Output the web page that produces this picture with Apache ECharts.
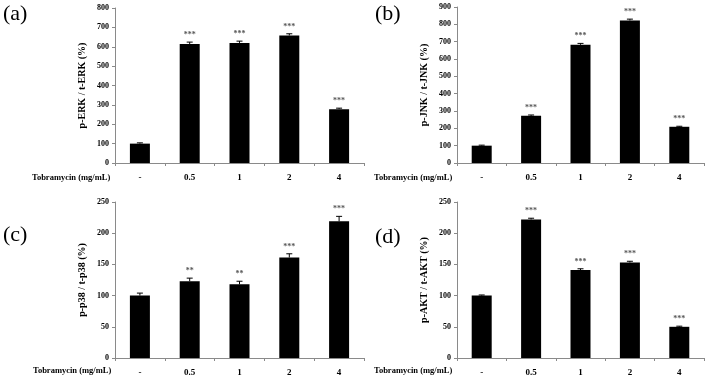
<!DOCTYPE html>
<html><head><meta charset="utf-8">
<script src="https://cdn.jsdelivr.net/npm/echarts@6/dist/echarts.min.js"></script>
<style>html,body{margin:0;padding:0;background:#fff}#c{width:714px;height:379px}</style>
</head><body><div id="c"></div>
<script>
var categories = ['-', '0.5', '1', '2', '4'];
var erk = [100, 614, 620, 658, 278];
var erkErr = [4, 10, 9, 9, 5];
var erkSig = ['', '***', '***', '***', '***'];
var jnk = [100, 272, 682, 822, 209];
var jnkErr = [3, 5, 8, 8, 3];
var jnkSig = ['', '***', '***', '***', '***'];
var p38 = [100, 123, 118, 161, 219];
var p38Err = [4, 5, 5, 6, 8];
var p38Sig = ['', '**', '**', '***', '***'];
var akt = [100, 222, 141, 153, 50];
var aktErr = [1, 2, 2, 2, 1];
var aktSig = ['', '***', '***', '***', '***'];
var yMax = [800, 900, 250, 250];
var yStep = [100, 100, 50, 50];
var yNames = ['p-ERK / t-ERK (%)', 'p-JNK / t-JNK (%)', 'p-p38 / t-p38 (%)', 'p-AKT / t-AKT (%)'];
var panelLabels = ['(a)', '(b)', '(c)', '(d)'];
var xTitle = 'Tobramycin (mg/mL)';

var FONT = '"Liberation Serif","Times New Roman",serif';
var AX = '#8a8a8a';
var grids = [
  {left: 115, top: 8, width: 249, height: 155},
  {left: 457, top: 7, width: 247, height: 156},
  {left: 115, top: 202, width: 249, height: 156},
  {left: 457, top: 202, width: 247, height: 156}
];
var vals = [erk, jnk, p38, akt];
var errs = [erkErr, jnkErr, p38Err, aktErr];
var sigs = [erkSig, jnkSig, p38Sig, aktSig];

var xAxis = [], yAxis = [], series = [], graphic = [];
for (var i = 0; i < 4; i++) {
  xAxis.push({
    type: 'category', gridIndex: i, data: categories,
    axisLine: {lineStyle: {color: AX, width: 1}},
    axisTick: {show: true, length: 3, lineStyle: {color: AX}},
    axisLabel: {color: '#000', fontFamily: FONT, fontWeight: 'bold', fontSize: 9, margin: 10}
  });
  yAxis.push({
    type: 'value', gridIndex: i, min: 0, max: yMax[i], interval: yStep[i],
    name: yNames[i], nameLocation: 'middle', nameGap: 28, nameRotate: 90,
    nameTextStyle: {color: '#000', fontFamily: FONT, fontWeight: 'bold', fontSize: 10},
    splitLine: {show: false},
    axisLine: {show: true, lineStyle: {color: AX, width: 1}},
    axisTick: {show: true, length: 3, lineStyle: {color: AX}},
    axisLabel: {color: '#000', fontFamily: FONT, fontWeight: 'bold', fontSize: 8, margin: 6}
  });
  series.push({
    type: 'bar', xAxisIndex: i, yAxisIndex: i, data: vals[i], barWidth: 20,
    itemStyle: {color: '#000'}, animation: false, silent: true
  });
  (function (idx) {
    var cdata = vals[idx].map(function (v, k) { return [k, v, errs[idx][k]]; });
    series.push({
      type: 'custom', xAxisIndex: idx, yAxisIndex: idx, data: cdata, animation: false, silent: true, z: 5,
      renderItem: function (params, api) {
        var k = api.value(0), v = api.value(1), e = api.value(2);
        var top = api.coord([k, v + e]);
        var bot = api.coord([k, v]);
        var s = sigs[idx][params.dataIndex];
        return {
          type: 'group', children: [
            {type: 'line', shape: {x1: top[0], y1: top[1], x2: bot[0], y2: bot[1]}, style: {stroke: '#000', lineWidth: 1}},
            {type: 'line', shape: {x1: top[0] - 3, y1: top[1], x2: top[0] + 3, y2: top[1]}, style: {stroke: '#000', lineWidth: 1}},
            {type: 'text', x: top[0], y: top[1] - 3, style: {text: s, textAlign: 'center', textVerticalAlign: 'bottom', fill: '#555', font: 'bold 8px ' + FONT}}
          ]
        };
      }
    });
  })(i);
}

var xTitlePos = [[112, 178], [454, 178], [113, 371], [454, 371]];
var panelPos = [[3, 15], [375, 15], [3, 236], [375, 238]];
for (var j = 0; j < 4; j++) {
  graphic.push({type: 'text', left: xTitlePos[j][0] - 80, top: xTitlePos[j][1] - 5,
    style: {text: xTitle, fill: '#000', font: 'bold 8.5px ' + FONT, width: 80, align: 'right'}});
  graphic.push({type: 'text', left: panelPos[j][0], top: panelPos[j][1] - 12,
    style: {text: panelLabels[j], fill: '#000', font: '22px ' + FONT}});
}

var chart = echarts.init(document.getElementById('c'), null, {renderer: 'canvas'});
chart.setOption({
  animation: false,
  grid: grids,
  xAxis: xAxis,
  yAxis: yAxis,
  series: series,
  graphic: graphic
});
</script></body></html>
